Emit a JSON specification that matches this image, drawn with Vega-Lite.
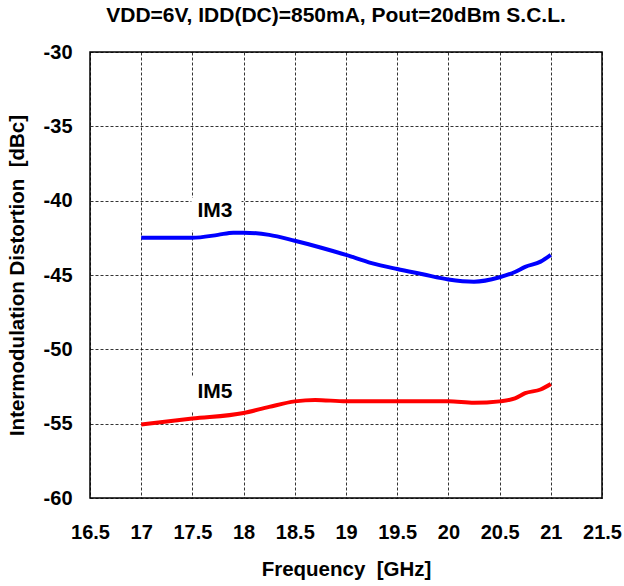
{
  "$schema": "https://vega.github.io/schema/vega-lite/v6.json",
  "width": 512,
  "height": 446,
  "autosize": {"type": "none"},
  "padding": {"left": 90, "top": 52, "right": 22, "bottom": 88},
  "background": "white",
  "title": {"text": "VDD=6V, IDD(DC)=850mA, Pout=20dBm S.C.L.", "font": "Liberation Sans", "fontSize": 21, "fontWeight": "bold", "color": "black", "offset": 16, "anchor": "middle", "dx": -10},
  "config": {
    "view": {"stroke": "black", "strokeWidth": 1.5},
    "axis": {"labelFont": "Liberation Sans", "titleFont": "Liberation Sans", "labelFontSize": 20, "titleFontSize": 20.5, "labelFontWeight": "bold", "titleFontWeight": "bold", "labelColor": "black", "titleColor": "black", "gridColor": "black", "gridDash": [3, 2], "gridWidth": 0.8, "gridOpacity": 1, "domain": false, "ticks": false, "labelExpr": "datum.value + ''"}
  },
  "datasets": {
    "curves": [
      {"f": 17.0, "d": -42.5, "s": "IM3"},
      {"f": 17.25, "d": -42.5, "s": "IM3"},
      {"f": 17.5, "d": -42.5, "s": "IM3"},
      {"f": 17.75, "d": -42.3, "s": "IM3"},
      {"f": 17.9, "d": -42.15, "s": "IM3"},
      {"f": 18.0, "d": -42.15, "s": "IM3"},
      {"f": 18.25, "d": -42.3, "s": "IM3"},
      {"f": 18.5, "d": -42.7, "s": "IM3"},
      {"f": 18.75, "d": -43.15, "s": "IM3"},
      {"f": 19.0, "d": -43.65, "s": "IM3"},
      {"f": 19.25, "d": -44.2, "s": "IM3"},
      {"f": 19.5, "d": -44.6, "s": "IM3"},
      {"f": 19.75, "d": -44.95, "s": "IM3"},
      {"f": 20.0, "d": -45.3, "s": "IM3"},
      {"f": 20.25, "d": -45.45, "s": "IM3"},
      {"f": 20.5, "d": -45.15, "s": "IM3"},
      {"f": 20.65, "d": -44.8, "s": "IM3"},
      {"f": 20.75, "d": -44.45, "s": "IM3"},
      {"f": 20.9, "d": -44.1, "s": "IM3"},
      {"f": 21.0, "d": -43.65, "s": "IM3"},
      {"f": 17.0, "d": -55.05, "s": "IM5"},
      {"f": 17.5, "d": -54.66, "s": "IM5"},
      {"f": 18.0, "d": -54.28, "s": "IM5"},
      {"f": 18.25, "d": -53.87, "s": "IM5"},
      {"f": 18.5, "d": -53.5, "s": "IM5"},
      {"f": 18.7, "d": -53.4, "s": "IM5"},
      {"f": 19.0, "d": -53.5, "s": "IM5"},
      {"f": 19.5, "d": -53.5, "s": "IM5"},
      {"f": 20.0, "d": -53.5, "s": "IM5"},
      {"f": 20.25, "d": -53.6, "s": "IM5"},
      {"f": 20.5, "d": -53.5, "s": "IM5"},
      {"f": 20.65, "d": -53.3, "s": "IM5"},
      {"f": 20.75, "d": -52.95, "s": "IM5"},
      {"f": 20.9, "d": -52.7, "s": "IM5"},
      {"f": 21.0, "d": -52.33, "s": "IM5"}
    ],
    "labels": [
      {"label": "IM3", "f": 17.72, "d": -40.7, "f1": 17.49, "f2": 17.98, "d1": -39.8, "d2": -42.0},
      {"label": "IM5", "f": 17.72, "d": -52.9, "f1": 17.49, "f2": 17.98, "d1": -51.86, "d2": -54.2}
    ]
  },
  "layer": [
    {
      "data": {"name": "labels"},
      "mark": {"type": "rect", "color": "white"},
      "encoding": {
        "x": {"field": "f1", "type": "quantitative", "scale": {"domain": [16.5, 21.5], "nice": false, "zero": false}, "axis": {"values": [16.5, 17, 17.5, 18, 18.5, 19, 19.5, 20, 20.5, 21, 21.5], "grid": true, "labelPadding": 24, "title": "Frequency \u00a0[GHz]", "titlePadding": 17, "labelFlush": false}},
        "x2": {"field": "f2"},
        "y": {"field": "d1", "type": "quantitative", "scale": {"domain": [-60, -30], "nice": false, "zero": false}, "axis": {"values": [-60, -55, -50, -45, -40, -35, -30], "grid": true, "labelPadding": 18, "title": "Intermodulation Distortion \u00a0[dBc]", "titlePadding": 16}},
        "y2": {"field": "d2"}
      }
    },
    {
      "data": {"name": "labels"},
      "mark": {"type": "text", "font": "Liberation Sans", "fontSize": 21, "fontWeight": "bold", "color": "black"},
      "encoding": {
        "x": {"field": "f", "type": "quantitative"},
        "y": {"field": "d", "type": "quantitative"},
        "text": {"field": "label"}
      }
    },
    {
      "data": {"name": "curves"},
      "mark": {"type": "line", "strokeWidth": 4, "interpolate": "monotone"},
      "encoding": {
        "x": {"field": "f", "type": "quantitative"},
        "y": {"field": "d", "type": "quantitative"},
        "color": {"field": "s", "type": "nominal", "scale": {"domain": ["IM3", "IM5"], "range": ["#0000ff", "#ff0000"]}, "legend": null}
      }
    }
  ]
}
